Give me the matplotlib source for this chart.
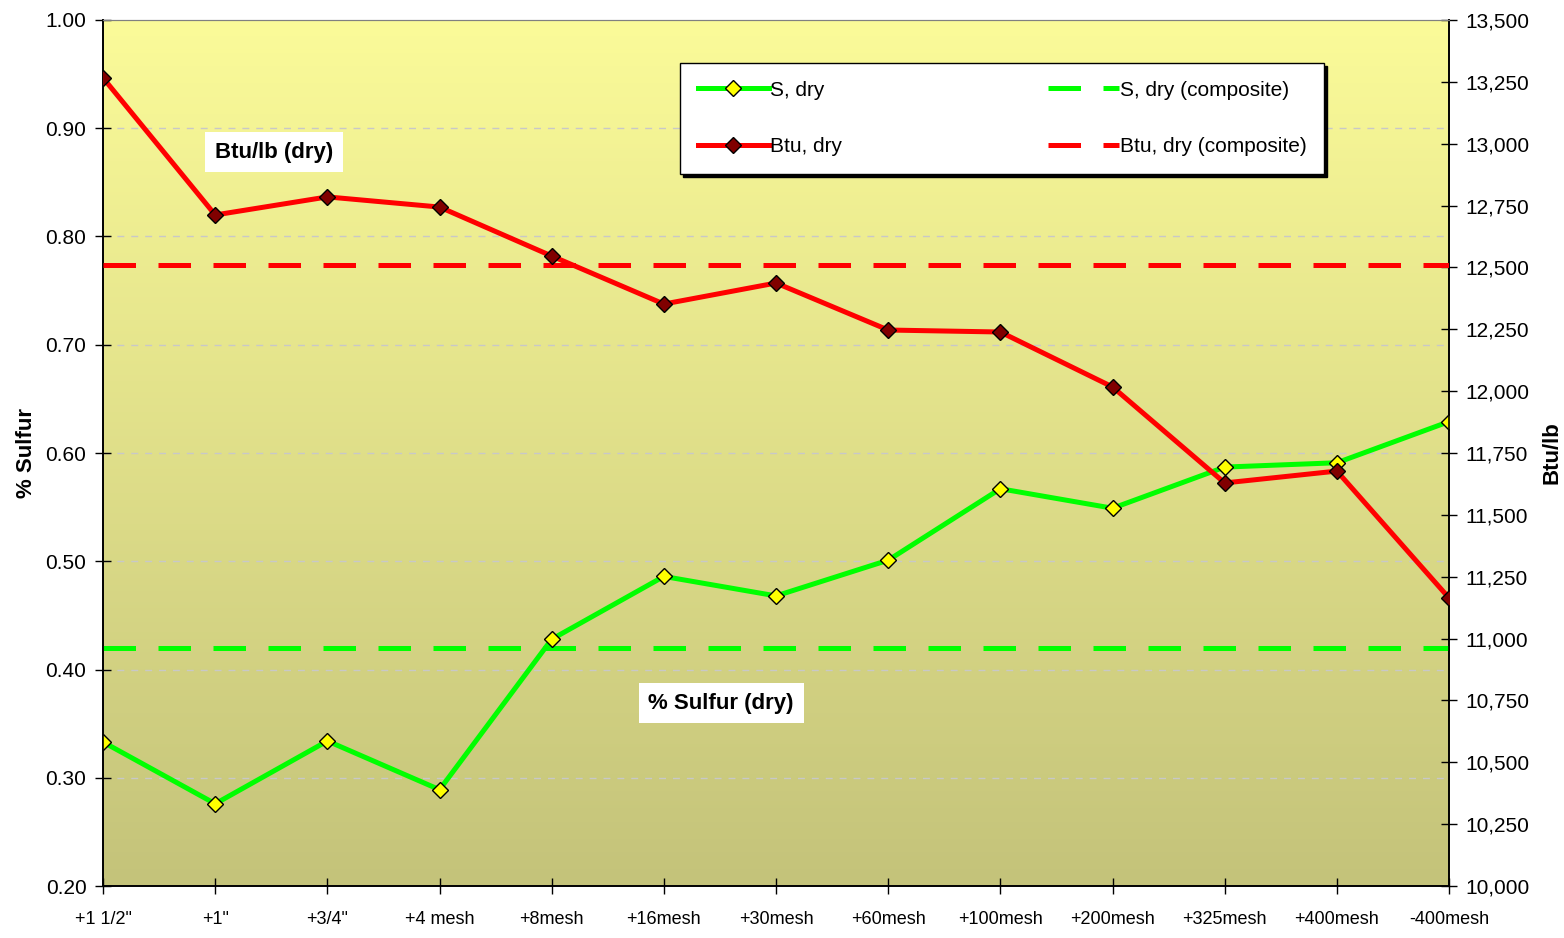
"""Sulfur and dry Btu by size fraction, with composite reference lines."""

import matplotlib

matplotlib.use("Agg")
import matplotlib.pyplot as plt
import numpy as np
from matplotlib.colors import LinearSegmentedColormap
from matplotlib.ticker import FuncFormatter, MultipleLocator

# size fractions
fractions = ['+1 1/2"', '+1"', '+3/4"', "+4 mesh", "+8mesh", "+16mesh", "+30mesh",
             "+60mesh", "+100mesh", "+200mesh", "+325mesh", "+400mesh", "-400mesh"]

# % sulfur, dry basis
sulfur_dry = [0.333, 0.276, 0.334, 0.289, 0.428, 0.486, 0.468,
              0.501, 0.567, 0.549, 0.587, 0.591, 0.629]
sulfur_composite = 0.420

# Btu/lb, dry basis
btu_dry = [13266, 12712, 12785, 12744, 12546, 12352, 12437,
           12247, 12239, 12017, 11629, 11677, 11164]
btu_composite = 12510

FONT = ["Liberation Sans", "DejaVu Sans"]

fig = plt.figure(figsize=(15.64, 9.38), dpi=100)
ax = fig.add_axes([0.0659, 0.0554, 0.8606, 0.9233])
ax2 = ax.twinx()

# yellow-to-olive gradient behind the plot
grad = LinearSegmentedColormap.from_list("bg", ["#c4c37a", "#fbfb99"])
ax.imshow(np.linspace(0, 1, 256).reshape(-1, 1), cmap=grad, aspect="auto",
          extent=(0, 12, 0.2, 1.0), origin="lower", zorder=0)

x = np.arange(len(fractions))
dash = (6.5, 4.5)

ax.set_xlim(0, len(fractions) - 1)
ax.set_ylim(0.2, 1.0)
ax2.set_ylim(10000, 13500)

for yv in np.arange(0.3, 1.0, 0.1):
    ax.axhline(yv, color="#c8c8c8", lw=1, ls=(0, (5, 5)), zorder=1)

s_line, = ax.plot(x, sulfur_dry, color="#00ff00", lw=3.6, marker="D", ms=8.5,
                  mfc="#ffff00", mec="black", mew=1, zorder=4, label="S, dry")
s_comp, = ax.plot(x, [sulfur_composite] * len(x), color="#00ff00", lw=3.6,
                  dashes=dash, zorder=3, label="S, dry (composite)")
b_line, = ax2.plot(x, btu_dry, color="#ff0000", lw=3.6, marker="D", ms=8.5,
                   mfc="#800000", mec="black", mew=1, zorder=4, label="Btu, dry")
b_comp, = ax2.plot(x, [btu_composite] * len(x), color="#ff0000", lw=3.6,
                   dashes=dash, zorder=3, label="Btu, dry (composite)")

# ticks and labels
ax.set_xticks(x)
ax.set_xticklabels(fractions, family=FONT, fontsize=13)
ax.yaxis.set_major_locator(MultipleLocator(0.1))
ax.yaxis.set_major_formatter(FuncFormatter(lambda v, _: f"{v:.2f}"))
ax2.yaxis.set_major_locator(MultipleLocator(250))
ax2.yaxis.set_major_formatter(FuncFormatter(lambda v, _: f"{v:,.0f}"))
for lab in ax.get_yticklabels() + ax2.get_yticklabels():
    lab.set_family(FONT)
    lab.set_fontsize(15)
ax.tick_params(axis="both", direction="inout", length=12, width=1, pad=6)
ax2.tick_params(axis="y", direction="inout", length=12, width=1, pad=6)
ax.tick_params(axis="x", pad=12)

ax.set_ylabel("% Sulfur", family=FONT, fontweight="bold", fontsize=16, labelpad=6)
ax2.set_ylabel("Btu/lb", family=FONT, fontweight="bold", fontsize=16, labelpad=8)

for a in (ax, ax2):
    a.spines["top"].set_color("#808080")
    for side in ("left", "right", "bottom"):
        a.spines[side].set_color("black")
        a.spines[side].set_linewidth(1.2)
ax2.set_zorder(ax.get_zorder() + 1)
ax2.patch.set_visible(False)

# in-plot captions
ax.text(1.525, 0.878, "Btu/lb (dry)", family=FONT, fontweight="bold", fontsize=16,
        ha="center", va="center", zorder=6,
        bbox=dict(facecolor="white", edgecolor="none", pad=7))
ax.text(5.51, 0.369, "% Sulfur (dry)", family=FONT, fontweight="bold", fontsize=16,
        ha="center", va="center", zorder=6,
        bbox=dict(facecolor="white", edgecolor="none", pad=7))

leg = ax2.legend(handles=[s_line, b_line, s_comp, b_comp], ncol=2, loc="upper left",
                 bbox_to_anchor=(0.4287, 0.9503), borderaxespad=0,
                 prop={"family": FONT, "size": 15},
                 frameon=True, fancybox=False, shadow={"color": "black", "alpha": 1},
                 borderpad=0.85, handlelength=3.4, handletextpad=0.05,
                 columnspacing=9.9, labelspacing=1.8, markerscale=0.9)
leg.get_frame().set_edgecolor("black")
leg.get_frame().set_linewidth(1)
leg.get_frame().set_facecolor("white")
leg.get_frame().set_alpha(1)

fig.savefig("out.png", dpi=100)
